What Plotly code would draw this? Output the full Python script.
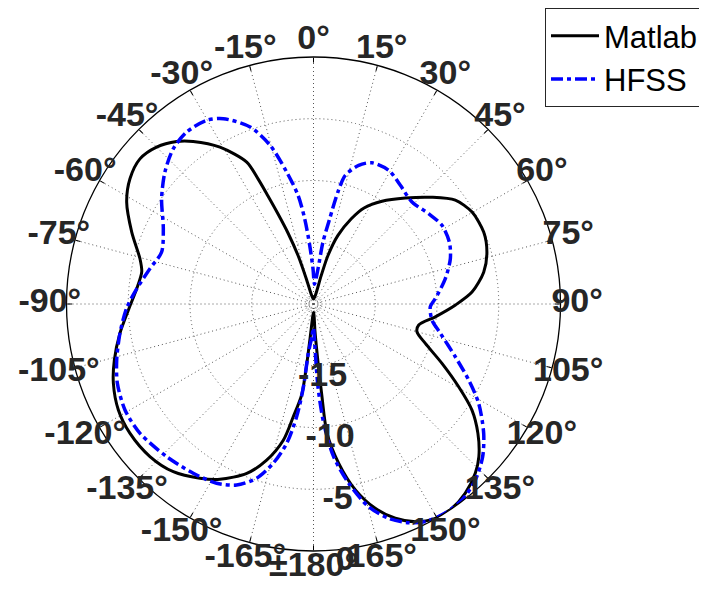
import plotly.graph_objects as go

# ---- data (angles in degrees, clockwise from top; values in dB) ----
matlab_theta = [-180, -176.5, -174.5, -173.6, -172.6, -169.8, -167.5, -163.3, -158.5, -151.9,
                -146.9, -140.1, -133.0, -125.2, -118.5, -111.6, -105.7, -98.6, -91.9, -85.1,
                -79.4, -75.4, -68.4, -61.4, -55.7, -50.1, -45.0, -40.1, -36.5, -30.8,
                -25.2, -23.9, -22.85, -21.5, -19.76, -17.7, -15.9, -12.0, 0.0, 12.0, 15.2,
                16.6, 19.6, 23.9, 27.75, 33.7, 40.9, 48.0, 53.8, 59.9, 67.1,
                73.3, 79.4, 85.7, 90.4, 96.0, 101.3, 105.0, 109.4, 114.8, 119.7,
                123.8, 128.2, 132.7, 136.3, 141.3, 145.9, 150.4, 154.9, 159.1, 163.2,
                167.3, 171.0, 174.0, 174.8, 175.5, 176.9, 178.5, 180]
matlab_db = [-19.3, -19.0, -17.6, -15.2, -12.6, -10.7, -8.7, -6.8, -5.26, -3.91,
             -3.16, -2.30, -1.89, -1.82, -2.02, -2.57, -3.25, -4.15, -5.0, -5.63,
             -5.85, -5.48, -4.17, -2.77, -2.01, -1.68, -2.03, -2.79, -3.62, -5.21,
             -7.3, -8.92, -10.51, -12.17, -13.89, -15.86, -17.87, -19.3, -19.6, -19.3, -17.6,
             -15.9, -14.1, -12.45, -11.21, -10.0, -8.65, -7.09, -5.77, -5.16, -5.04,
             -5.34, -5.98, -7.13, -8.5, -10.08, -11.31, -11.33, -10.4, -8.54, -6.47,
             -4.56, -3.06, -1.78, -1.04, -0.36, -0.02, -0.04, -0.54, -1.43, -2.72,
             -4.57, -6.94, -9.47, -12.6, -15.1, -17.8, -19.3, -19.3]

hfss_theta = [-180, -177.0, -174.0, -173.0, -171.5, -169.1, -165.8, -161.95, -157.0, -151.6,
              -144.6, -136.1, -126.7, -119.4, -112.0, -105.9, -98.6, -91.2, -85.1, -77.8,
              -71.1, -63.4, -55.3, -48.4, -42.1, -36.4, -30.2, -25.95, -19.7, -15.3,
              -11.5, -8.1, -5.9, -3.7, -0.8, 3.0, 7.3, 8.7, 10.75, 12.3,
              13.9, 18.05, 22.5, 29.4, 36.2, 44.0, 51.9, 58.5, 65.5, 71.7,
              79.1, 87.5, 91.3, 97.7, 103.0, 110.4, 116.1, 121.0, 127.2, 132.06,
              137.4, 142.85, 147.8, 152.8, 156.5, 160.7, 164.8, 168.9, 172.5, 175.1,
              176.9, 178.3, 180]
hfss_db = [-18.06, -17.3, -15.98, -13.1, -10.78, -8.51, -6.70, -5.16, -4.08, -3.50,
           -3.19, -2.85, -2.48, -2.49, -2.87, -3.43, -4.15, -4.87, -5.63, -6.45,
           -7.0, -6.40, -5.04, -3.91, -3.06, -2.70, -2.79, -3.31, -4.78, -6.67,
           -9.09, -11.1, -13.05, -15.24, -17.14, -18.4, -17.12, -14.92, -12.97, -10.7,
           -9.26, -8.19, -7.62, -7.58, -8.09, -8.52, -8.15, -7.80, -7.91, -8.33,
           -9.13, -10.13, -10.54, -10.32, -9.46, -7.75, -6.01, -4.40, -2.70, -1.55,
           -0.64, -0.09, 0.0, -0.19, -0.69, -1.61, -2.99, -5.21, -7.53, -10.31,
           -13.29, -16.82, -18.06]

angle_ticks = list(range(0, 360, 15))
angle_labels = ["0°", "15°", "30°", "45°", "60°", "75°", "90°", "105°", "120°", "135°",
                "150°", "165°", "±180°", "-165°", "-150°", "-135°", "-120°", "-105°",
                "-90°", "-75°", "-60°", "-45°", "-30°", "-15°"]
angle_label_r = 1.35          # dB position of the angular labels (just outside the rim)
radial_ticks = [-15, -10, -5, 0]
radial_labels = ["-15", "-10", "-5", "0"]
radial_label_angle = 173.0
radial_label_offset = 1.0
r_range = [-20, 0]
label_r_max = 1.4             # extended radial range of the (invisible) label layer
center_ring_db = -19.43

FONT = "Liberation Sans, Arial, sans-serif"
TXT = "#262626"
GRID = "#555555"

fig = go.Figure()

# small centre ring (grid)
ring_theta = list(range(0, 361, 6))
fig.add_trace(go.Scatterpolar(
    theta=ring_theta, r=[center_ring_db] * len(ring_theta), mode="lines",
    line=dict(color=GRID, width=1, dash="1px,2px"), showlegend=False, hoverinfo="skip"))

fig.add_trace(go.Scatterpolar(
    theta=matlab_theta, r=matlab_db, mode="lines", name="Matlab",
    line=dict(color="black", width=3, shape="spline", smoothing=0.8)))
fig.add_trace(go.Scatterpolar(
    theta=hfss_theta, r=hfss_db, mode="lines", name="HFSS",
    line=dict(color="#0000ff", width=3.5, dash="12px,4px,4px,4px", shape="spline", smoothing=0.8)))

# angular tick labels (placed like MATLAB, slightly outside the rim) on an overlay polar
fig.add_trace(go.Scatterpolar(
    theta=angle_ticks, r=[angle_label_r] * len(angle_ticks), subplot="polar2",
    mode="text", text=angle_labels, cliponaxis=False,
    textfont=dict(family=FONT, size=34, color=TXT, weight="bold"),
    showlegend=False, hoverinfo="skip"))

# radial tick labels
fig.add_trace(go.Scatterpolar(
    theta=[radial_label_angle] * len(radial_ticks), subplot="polar2",
    r=[v + radial_label_offset for v in radial_ticks],
    mode="text", text=radial_labels, cliponaxis=False,
    textfont=dict(family=FONT, size=34, color=TXT, weight="bold"),
    showlegend=False, hoverinfo="skip"))

W, H = 707, 590
PAGE_OFF_X, PAGE_OFF_Y = 8.0, 6.0   # browser body margin compensation
cx, cy, R = 313.5 - PAGE_OFF_X, 302.0 - PAGE_OFF_Y, 247.0
R2 = R * (label_r_max - r_range[0]) / (r_range[1] - r_range[0])


def dom(rad):
    return dict(x=[(cx - rad) / W, (cx + rad) / W], y=[(H - cy - rad) / H, (H - cy + rad) / H])


fig.update_layout(
    width=W, height=H,
    margin=dict(l=0, r=0, t=0, b=0),
    paper_bgcolor="white",
    polar=dict(
        domain=dom(R),
        bgcolor="white",
        angularaxis=dict(
            rotation=90, direction="clockwise",
            tickmode="array", tickvals=angle_ticks, showticklabels=False,
            showline=True, linecolor="black", linewidth=1.3,
            ticks="inside", ticklen=5, tickcolor="black",
            showgrid=True, gridcolor=GRID, griddash="1px,3px", gridwidth=1,
        ),
        radialaxis=dict(
            range=r_range, tickmode="array", tickvals=radial_ticks,
            showticklabels=False, showline=False, ticks="",
            showgrid=True, gridcolor=GRID, griddash="1px,3px", gridwidth=1,
        ),
    ),
    polar2=dict(
        domain=dom(R2),
        bgcolor="rgba(0,0,0,0)",
        angularaxis=dict(rotation=90, direction="clockwise", visible=False,
                         showgrid=False, showline=False, ticks=""),
        radialaxis=dict(range=[r_range[0], label_r_max], visible=False,
                        showgrid=False, showline=False, ticks=""),
    ),
    legend=dict(
        x=(545 - PAGE_OFF_X) / W, y=1.0, xanchor="left", yanchor="top",
        bgcolor="white", bordercolor=TXT, borderwidth=1,
        font=dict(family=FONT, size=31, color="black"),
        tracegroupgap=0, itemwidth=48,
    ),
    showlegend=True,
)

fig.write_html("out.html")
